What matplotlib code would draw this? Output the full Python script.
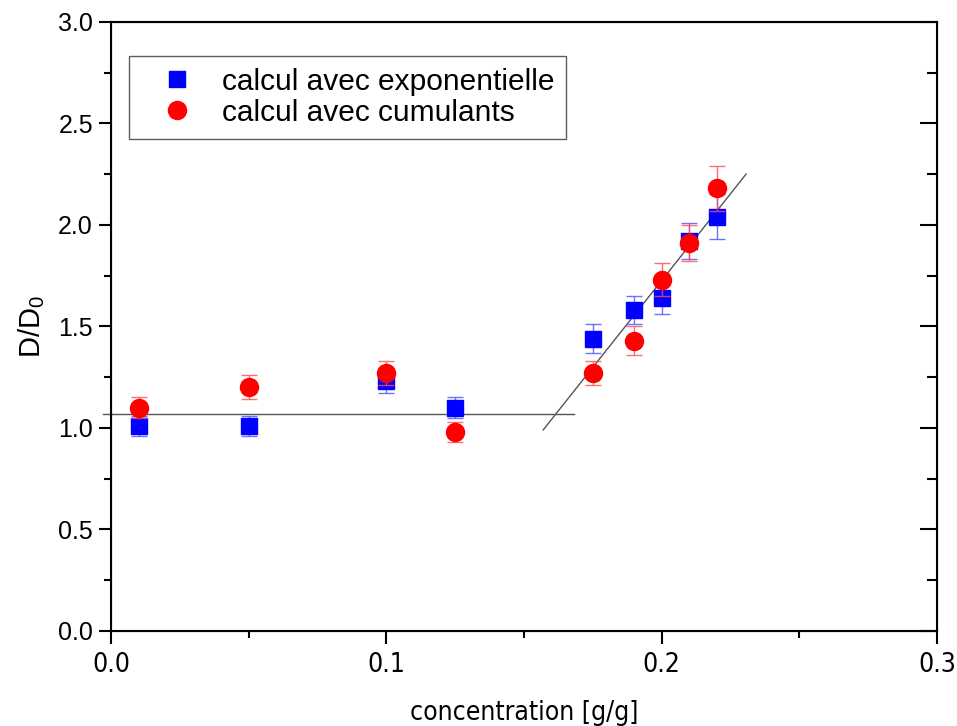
import numpy as np
import matplotlib
matplotlib.use("Agg")
import matplotlib.pyplot as plt
from matplotlib.ticker import MultipleLocator, FormatStrFormatter
from matplotlib.lines import Line2D
from matplotlib import font_manager as fm

# values
conc = [0.01, 0.05, 0.1, 0.125, 0.175, 0.19, 0.2, 0.21, 0.22]
d_expo = [1.01, 1.01, 1.23, 1.10, 1.44, 1.58, 1.64, 1.92, 2.04]
err_expo = [0.05, 0.05, 0.06, 0.05, 0.07, 0.07, 0.08, 0.09, 0.11]
d_cumul = [1.10, 1.20, 1.27, 0.98, 1.27, 1.43, 1.73, 1.91, 2.18]
err_cumul = [0.05, 0.06, 0.06, 0.05, 0.06, 0.07, 0.08, 0.09, 0.11]

# the two guide lines
flat_x = [-0.003, 0.168]
flat_y = [1.07, 1.07]
slope_x = [0.157, 0.2307]
slope_y = [0.99, 2.25]

plt.rcParams['font.family'] = ['Liberation Sans', 'DejaVu Sans']
plt.rcParams['mathtext.fontset'] = 'custom'
plt.rcParams['mathtext.rm'] = 'Liberation Sans'
plt.rcParams['mathtext.it'] = 'Liberation Sans'

# narrow font for the x axis texts, if there is one
try:
    fm.findfont(fm.FontProperties(family='Liberation Sans Narrow'), fallback_to_default=False)
    narrow = dict(family='Liberation Sans Narrow')
except Exception:
    narrow = dict(family='DejaVu Sans', stretch='condensed')

fig = plt.figure(figsize=(9.57, 7.26), dpi=100)
ax = fig.add_axes([0.116, 0.131, 0.863, 0.839])

ax.plot(flat_x, flat_y, color='#555555', lw=1.0, zorder=1, clip_on=False)
ax.plot(slope_x, slope_y, color='#555555', lw=1.0, zorder=1)

ax.errorbar(conc, d_expo, yerr=err_expo, fmt='s', color='#0000ff', ms=11,
            ecolor=(0.3, 0.3, 1.0, 0.8), elinewidth=1, capsize=6, capthick=1, zorder=3)
ax.errorbar(conc, d_cumul, yerr=err_cumul, fmt='o', color='#ff0000', ms=13,
            ecolor=(1.0, 0.3, 0.3, 0.8), elinewidth=1, capsize=6, capthick=1, zorder=4)

ax.set_xlim(0, 0.3)
ax.set_ylim(0, 3.0)
ax.xaxis.set_major_locator(MultipleLocator(0.1))
ax.xaxis.set_minor_locator(MultipleLocator(0.05))
ax.yaxis.set_major_locator(MultipleLocator(0.5))
ax.yaxis.set_minor_locator(MultipleLocator(0.25))
ax.xaxis.set_major_formatter(FormatStrFormatter('%.1f'))
ax.yaxis.set_major_formatter(FormatStrFormatter('%.1f'))

ax.tick_params(axis='both', which='major', direction='out', length=9, width=1.5)
ax.tick_params(axis='both', which='minor', direction='out', length=5, width=1.5)
ax.tick_params(axis='y', labelsize=18, pad=4)
ax.tick_params(axis='x', labelsize=19, pad=6)
for s in ax.spines.values():
    s.set_linewidth(1.5)

# inward ticks on the right spine
axr = ax.twinx()
axr.set_ylim(ax.get_ylim())
axr.yaxis.set_major_locator(MultipleLocator(0.5))
axr.yaxis.set_minor_locator(MultipleLocator(0.25))
axr.tick_params(axis='y', which='major', direction='in', length=12, width=1.5, labelright=False)
axr.tick_params(axis='y', which='minor', direction='in', length=7, width=1.5)

fig.canvas.draw()
for lab in ax.get_xticklabels():
    lab.set(**narrow)

ax.set_xlabel('concentration [g/g]', fontsize=19, labelpad=16, **narrow)
ax.set_ylabel('D/D$_\\mathrm{0}$', fontsize=21, labelpad=8)

handles = [Line2D([], [], ls='none', marker='s', ms=11, color='#0000ff'),
           Line2D([], [], ls='none', marker='o', ms=13, color='#ff0000')]
labels = ['calcul avec exponentielle', 'calcul avec cumulants']
leg = ax.legend(handles, labels, loc='upper left', bbox_to_anchor=(0.022, 0.944),
                borderaxespad=0, fontsize=21.5, frameon=True, fancybox=False,
                edgecolor='#333333', handletextpad=0.3, borderpad=0.4,
                labelspacing=0.1, handlelength=2.4)
leg.get_frame().set_linewidth(1.0)

fig.savefig('out.png', dpi=100)
